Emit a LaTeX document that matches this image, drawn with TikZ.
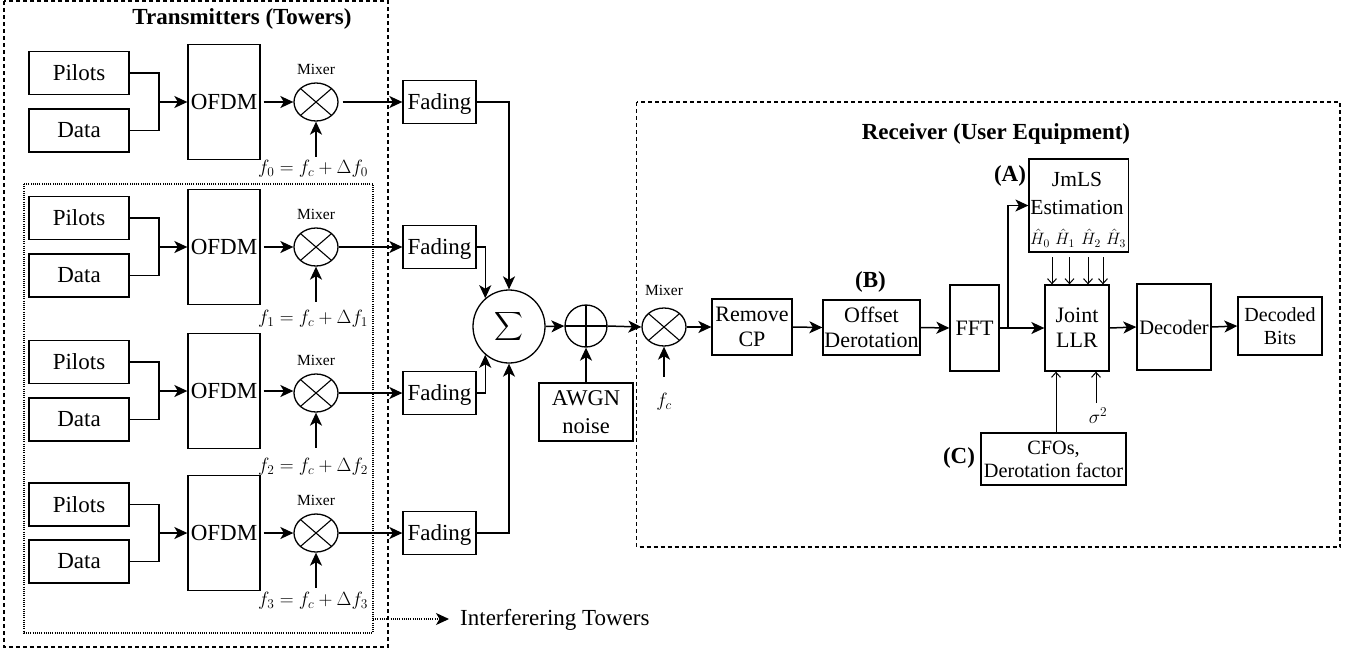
\documentclass[tikz,border=0pt]{standalone}
\usepackage{fix-cm}
\usepackage{fontspec}
\setmainfont{Liberation Serif}
\usetikzlibrary{shapes.geometric,positioning,arrows.meta}
\tikzset{
  every node/.style={font=\fontsize{23}{25}\selectfont, inner sep=0pt},
  blockbox/.style={draw, line width=1.3pt, align=center},
  mixernode/.style={draw, ellipse, line width=1.3pt, minimum width=44pt, minimum height=38pt,
    path picture={\draw[line width=1.1pt] (path picture bounding box.north west) -- (path picture bounding box.south east)
      (path picture bounding box.north east) -- (path picture bounding box.south west);}},
  plusnode/.style={draw, ellipse, line width=1.3pt, minimum width=42pt, minimum height=42pt,
    path picture={\draw[line width=1.1pt] (path picture bounding box.north) -- (path picture bounding box.south)
      (path picture bounding box.east) -- (path picture bounding box.west);}},
  smalltext/.style={font=\fontsize{15.5}{18}\selectfont},
  hattext/.style={font=\fontsize{16.5}{18}\selectfont},
  mathtext/.style={font=\fontsize{19.2}{21}\selectfont},
  boldtext/.style={font=\fontsize{23}{25}\selectfont\bfseries},
  recvtext/.style={font=\fontsize{22}{25}\selectfont},
  wire/.style={line width=1.3pt},
  flow/.style={line width=1.5pt, -{Stealth[length=13pt,width=12pt,inset=3.5pt]}},
  thinflow/.style={line width=1pt, -{Straight Barb[length=5pt,width=9pt]}},
  region/.style={line width=1.1pt, dash pattern=on 4pt off 3pt},
  dotline/.style={line width=1.1pt, dash pattern=on 1pt off 1.2pt},
}
\begin{document}
\begin{tikzpicture}[x=1pt,y=-1pt]
  \useasboundingbox (0,0) rectangle (1356,654);

  % Transmitter rows
  \foreach \i/\yo/\ym/\yp/\yd/\yf/\gap in {0/102/102/73/130.5/169/4, 1/247/247/218/275.5/319/0, 2/391/393/362/419.5/467/0, 3/533/533/504.5/561.5/601/0} {
    \node[blockbox, minimum width=100pt, minimum height=43pt] (pilots\i) at (79,\yp) {Pilots};
    \node[blockbox, minimum width=100pt, minimum height=43pt] (data\i) at (79,\yd) {Data};
    \node[blockbox, minimum width=72pt, minimum height=115pt] (ofdm\i) at (224,\yo) {OFDM};
    \node[mixernode] (mixer\i) at (316,\ym) {};
    \node[smalltext, above=8pt of mixer\i] (mixlabel\i) {Mixer};
    \node[mathtext] (freq\i) at (313,\yf) {$f_\i = f_c + \Delta f_\i$};
    \node[blockbox, minimum width=73pt, minimum height=43pt, text depth=0pt] (fading\i) at (439.5,\ym) {Fading};
    \coordinate (merge\i) at (159,\yo); % Where pilots and data join
    \coordinate[below=35pt of mixer\i] (carrier\i);
    \draw[wire] (pilots\i.east) -| (merge\i);
    \draw[wire] (data\i.east) -| (merge\i);
    \draw[flow] (merge\i) -- (ofdm\i.west);
    \draw[flow, shorten <=3pt] (ofdm\i.east) -- (ofdm\i.east -| mixer\i.west);
    \draw[flow] (carrier\i) -- (mixer\i.south);
    \draw[flow, shorten <=\gap pt] (mixer\i.east) -- (fading\i.west);
  }

  % Dashed and dotted regions
  \draw[region] (4,1) rectangle (388,647);
  \draw[dotline] (24,184) rectangle (373,633);
  \node[boldtext] (txtitle) at (242,19) {Transmitters (Towers)};
  \coordinate (dotedge) at (373,619);
  \coordinate (dotend) at (449,619);
  \node[anchor=west] (interf) at (460,620) {Interferering Towers};
  \draw[dotline, -{Stealth[length=13pt,width=12pt,inset=3.5pt]}] (dotedge) -- (dotend);

  % Channel
  \node[draw, ellipse, line width=1.3pt, minimum width=72pt, minimum height=73pt] (sigma) at (509,326.5) {};
  \node[scale=2] (sumsign) at (sigma) {$\displaystyle\sum$};
  \node[plusnode] (plus) at (586,326) {};
  \node[blockbox, minimum width=94pt, minimum height=58pt, font=\fontsize{22.5}{28}\selectfont] (awgn) at (586,412) {AWGN\\noise};
  \draw[flow] (fading0.east) -| (sigma.north);
  \draw[flow] (fading1.east) -| (sigma.130);
  \draw[flow] (fading2.east) -| (sigma.230);
  \draw[flow] (fading3.east) -| (sigma.south);
  \draw[flow] (sigma.east) -- (plus.west);
  \draw[flow] (awgn.north) -- (plus.south);

  % Receiver chain
  \draw[region] (636.5,102) rectangle (1340,547);
  \node[boldtext] (rxtitle) at (996,134) {Receiver (User Equipment)};
  \node[mixernode] (rxmixer) at (664,327) {};
  \node[smalltext, above=12pt of rxmixer] (rxmixlabel) {Mixer};
  \node[mathtext] (fcarrier) at (664,402) {$f_c$};
  \coordinate[below=30pt of rxmixer] (rxcarrier);
  \node[blockbox, recvtext, minimum width=80pt, minimum height=56pt] (removecp) at (752,327) {Remove\\CP};
  \node[blockbox, recvtext, minimum width=97pt, minimum height=55pt] (offset) at (871.5,327.5) {Offset\\Derotation};
  \node[boldtext] (labelb) at (870.5,282) {(B)};
  \node[blockbox, recvtext, minimum width=49pt, minimum height=86pt] (fft) at (974.5,328) {FFT};
  \node[blockbox, recvtext, minimum width=64pt, minimum height=86pt] (llr) at (1077,328) {Joint\\LLR};
  \node[blockbox, minimum width=74pt, minimum height=86pt, font=\fontsize{20.5}{23}\selectfont] (decoder) at (1174,327) {Decoder};
  \node[blockbox, minimum width=84pt, minimum height=58pt, font=\fontsize{20}{23}\selectfont] (bits) at (1280,326) {Decoded\\Bits};
  \draw[flow] (plus.east) -- (rxmixer.west);
  \draw[flow] (rxcarrier) -- (rxmixer.south);
  \draw[flow] (rxmixer.east) -- (removecp.west);
  \draw[flow] (removecp.east) -- (offset.west);
  \draw[flow] (offset.east) -- (fft.west);
  \draw[flow] (fft.east) -- (llr.west);
  \draw[flow] (llr.east) -- (decoder.west);
  \draw[flow] (decoder.east) -- (bits.west);

  % Channel estimation block
  \node[blockbox, minimum width=99.5pt, minimum height=93pt] (jmls) at (1078.8,205.5) {};
  \node[align=center, font=\fontsize{21.5}{28}\selectfont] (jmlstext) at (1077,193) {JmLS\\Estimation};
  \node[boldtext] (labela) at (1010,176) {(A)};
  \coordinate (branch) at (1008,328);
  \draw[wire, -{Stealth[length=13pt,width=12pt,inset=3.5pt]}] (branch) |- (jmls.west);
  \foreach \i/\xh/\xa in {0/1040/1052, 1/1065/1069.5, 2/1091/1088, 3/1116/1103} {
    \node[hattext] (hhat\i) at (\xh,238) {$\hat{H}_\i$};
    \coordinate (hin\i) at (\xa,257);
    \draw[thinflow] (hin\i) -- (hin\i |- llr.north);
  }

  % Side inputs of the LLR
  \node[blockbox, minimum width=145pt, minimum height=52pt, font=\fontsize{20.3}{23}\selectfont] (cfos) at (1053.5,459) {CFOs,\\Derotation factor};
  \node[boldtext] (labelc) at (959,458) {(C)};
  \node[mathtext] (sigmasq) at (1098,416) {$\sigma^2$};
  \coordinate (cfotop) at (1056,433);
  \coordinate (noisein) at (1096,403);
  \draw[thinflow] (cfotop) -- (cfotop |- llr.south);
  \draw[thinflow] (noisein) -- (noisein |- llr.south);
\end{tikzpicture}
\end{document}
